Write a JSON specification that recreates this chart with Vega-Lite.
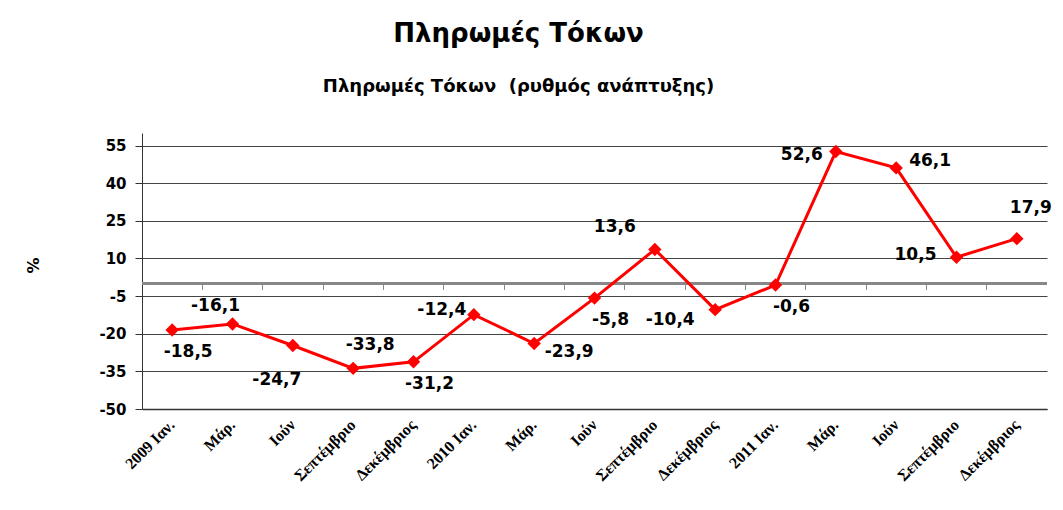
{
  "$schema": "https://vega.github.io/schema/vega-lite/v6.json",
  "autosize": {"type": "none"},
  "width": 905,
  "height": 276,
  "padding": {"left": 142, "top": 133, "right": 16, "bottom": 101},
  "background": "white",
  "config": {
    "view": {"stroke": null},
    "locale": {"number": {"decimal": ",", "thousands": ".", "grouping": [3], "currency": ["", "€"], "minus": "-"}},
    "text": {"font": "DejaVu Sans", "fontWeight": "bold", "fontSize": 17, "color": "black"}
  },
  "title": {
    "text": "Πληρωμές Τόκων",
    "subtitle": "Πληρωμές Τόκων \u00a0(ρυθμός ανάπτυξης)",
    "font": "DejaVu Sans",
    "fontSize": 26,
    "fontWeight": "bold",
    "color": "black",
    "subtitleFont": "DejaVu Sans",
    "subtitleFontSize": 18,
    "subtitleFontWeight": "bold",
    "subtitleColor": "black",
    "subtitlePadding": 31,
    "anchor": "middle",
    "dx": -76,
    "offset": 37
  },
  "data": {
    "values": [
      {"period": "2009 Ιαν.", "value": -18.5},
      {"period": "2009 Μάρ.", "value": -16.1},
      {"period": "2009 Ιούν", "value": -24.7},
      {"period": "2009 Σεπτέμβριο", "value": -33.8},
      {"period": "2009 Δεκέμβριος", "value": -31.2},
      {"period": "2010 Ιαν.", "value": -12.4},
      {"period": "2010 Μάρ.", "value": -23.9},
      {"period": "2010 Ιούν", "value": -5.8},
      {"period": "2010 Σεπτέμβριο", "value": 13.6},
      {"period": "2010 Δεκέμβριος", "value": -10.4},
      {"period": "2011 Ιαν.", "value": -0.6},
      {"period": "2011 Μάρ.", "value": 52.6},
      {"period": "2011 Ιούν", "value": 46.1},
      {"period": "2011 Σεπτέμβριο", "value": 10.5},
      {"period": "2011 Δεκέμβριος", "value": 17.9}
    ]
  },
  "resolve": {"axis": {"x": "independent"}},
  "encoding": {
    "x": {"field": "period", "type": "nominal", "sort": null,
          "scale": {"type": "band", "paddingInner": 0, "paddingOuter": 0}},
    "y": {"field": "value", "type": "quantitative",
          "scale": {"domain": [-50, 60], "nice": false, "zero": false},
          "axis": {"title": "%", "values": [-50, -35, -20, -5, 10, 25, 40, 55], "labelOverlap": false,
                   "grid": true, "gridColor": "#444444", "gridWidth": 1,
                   "domainColor": "#333333", "tickColor": "#333333", "tickSize": 7,
                   "labelFont": "DejaVu Sans", "labelFontWeight": "bold", "labelFontSize": 15, "labelColor": "black",
                   "labelPadding": 9,
                   "titleFont": "DejaVu Sans", "titleFontWeight": "bold", "titleFontSize": 16, "titleColor": "black",
                   "titleX": -101, "titleY": 132}}
  },
  "layer": [
    {
      "mark": {"type": "rule", "color": "#888888", "strokeWidth": 1.5},
      "encoding": {"y": {"datum": 0}, "x": null}
    },
    {
      "mark": {"type": "line", "color": "#ff0000", "strokeWidth": 3},
      "encoding": {
        "x": {"field": "period", "type": "nominal", "sort": null,
              "axis": {"title": null, "ticks": false, "domain": true, "domainColor": "#333333", "domainWidth": 1.5,
                       "labelAngle": -45, "labelAlign": "right", "labelBaseline": "middle", "labelPadding": 13,
                       "labelFont": "Liberation Serif", "labelFontWeight": "bold", "labelFontSize": 16, "labelColor": "black",
                       "labelExpr": "indexof(datum.label, 'Ιαν') >= 0 ? datum.label : substring(datum.label, 5)"}}
      }
    },
    {
      "mark": {"type": "point", "shape": "diamond", "filled": true, "color": "#ff0000", "size": 180, "opacity": 1},
      "encoding": {
        "x": {"field": "period", "type": "nominal", "sort": null,
              "axis": {"title": null, "orient": "top", "labels": false, "domain": false, "ticks": true, "tickColor": "#888888",
                       "tickSize": -6, "bandPosition": 0, "offset": -150.5, "grid": false}}
      }
    },
    {
      "transform": [{"filter": "indexof(['2009 Ιαν.', '2009 Δεκέμβριος', '2010 Ιούν', '2011 Ιαν.'], datum.period) >= 0"}],
      "mark": {"type": "text", "dx": 16, "dy": 22},
      "encoding": {"x": {"field": "period", "type": "nominal", "sort": null, "axis": null}, "text": {"field": "value", "type": "quantitative", "format": ".1f"}}
    },
    {
      "transform": [{"filter": "datum.period == '2009 Μάρ.'"}],
      "mark": {"type": "text", "dx": -17, "dy": -18},
      "encoding": {"x": {"field": "period", "type": "nominal", "sort": null, "axis": null}, "text": {"field": "value", "type": "quantitative", "format": ".1f"}}
    },
    {
      "transform": [{"filter": "datum.period == '2009 Ιούν'"}],
      "mark": {"type": "text", "dx": -16, "dy": 34},
      "encoding": {"x": {"field": "period", "type": "nominal", "sort": null, "axis": null}, "text": {"field": "value", "type": "quantitative", "format": ".1f"}}
    },
    {
      "transform": [{"filter": "datum.period == '2009 Σεπτέμβριο'"}],
      "mark": {"type": "text", "dx": 17, "dy": -23},
      "encoding": {"x": {"field": "period", "type": "nominal", "sort": null, "axis": null}, "text": {"field": "value", "type": "quantitative", "format": ".1f"}}
    },
    {
      "transform": [{"filter": "datum.period == '2010 Ιαν.'"}],
      "mark": {"type": "text", "dx": -32, "dy": -5},
      "encoding": {"x": {"field": "period", "type": "nominal", "sort": null, "axis": null}, "text": {"field": "value", "type": "quantitative", "format": ".1f"}}
    },
    {
      "transform": [{"filter": "datum.period == '2010 Μάρ.'"}],
      "mark": {"type": "text", "dx": 35, "dy": 8},
      "encoding": {"x": {"field": "period", "type": "nominal", "sort": null, "axis": null}, "text": {"field": "value", "type": "quantitative", "format": ".1f"}}
    },
    {
      "transform": [{"filter": "datum.period == '2010 Σεπτέμβριο'"}],
      "mark": {"type": "text", "dx": -40, "dy": -22},
      "encoding": {"x": {"field": "period", "type": "nominal", "sort": null, "axis": null}, "text": {"field": "value", "type": "quantitative", "format": ".1f"}}
    },
    {
      "transform": [{"filter": "datum.period == '2010 Δεκέμβριος'"}],
      "mark": {"type": "text", "dx": -45, "dy": 10},
      "encoding": {"x": {"field": "period", "type": "nominal", "sort": null, "axis": null}, "text": {"field": "value", "type": "quantitative", "format": ".1f"}}
    },
    {
      "transform": [{"filter": "datum.period == '2011 Μάρ.'"}],
      "mark": {"type": "text", "dx": -34, "dy": 3},
      "encoding": {"x": {"field": "period", "type": "nominal", "sort": null, "axis": null}, "text": {"field": "value", "type": "quantitative", "format": ".1f"}}
    },
    {
      "transform": [{"filter": "datum.period == '2011 Ιούν'"}],
      "mark": {"type": "text", "dx": 34, "dy": -7},
      "encoding": {"x": {"field": "period", "type": "nominal", "sort": null, "axis": null}, "text": {"field": "value", "type": "quantitative", "format": ".1f"}}
    },
    {
      "transform": [{"filter": "datum.period == '2011 Σεπτέμβριο'"}],
      "mark": {"type": "text", "dx": -41, "dy": -2},
      "encoding": {"x": {"field": "period", "type": "nominal", "sort": null, "axis": null}, "text": {"field": "value", "type": "quantitative", "format": ".1f"}}
    },
    {
      "transform": [{"filter": "datum.period == '2011 Δεκέμβριος'"}],
      "mark": {"type": "text", "dx": 14, "dy": -31},
      "encoding": {"x": {"field": "period", "type": "nominal", "sort": null, "axis": null}, "text": {"field": "value", "type": "quantitative", "format": ".1f"}}
    }
  ]
}
